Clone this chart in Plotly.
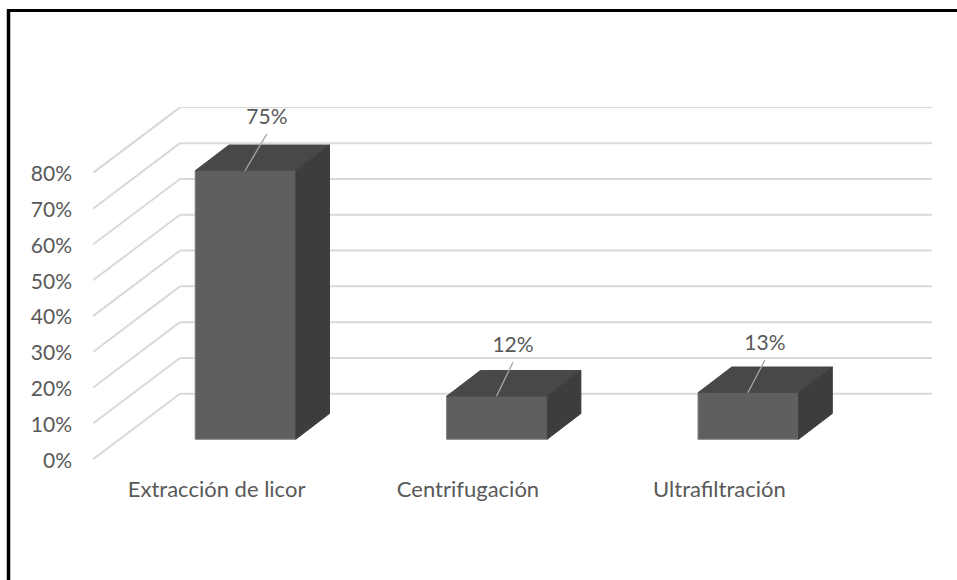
import plotly.graph_objects as go

categories = ["Extracción de licor", "Centrifugación", "Ultrafiltración"]
values = [75, 12, 13]
value_labels = ["75%", "12%", "13%"]
y_ticks = [0, 10, 20, 30, 40, 50, 60, 70, 80]
y_tick_labels = ["0%", "10%", "20%", "30%", "40%", "50%", "60%", "70%", "80%"]

W, H = 957, 580
ML, MR, MT, MB = 93, 25, 107, 120
X_RANGE = [-0.6066, 2.7306]
Y_RANGE = [-0.2, 98.4]

BAR_W = 0.40
FLOOR = 5.6
DEPTH_X = 0.134
DEPTH_Y = 7.18
WALL_X = 0.346
WALL_Y = 18.3
LABEL_SHIFT = 0.115
LEADER_DX = [0.085, 0.064, 0.066]
LEADER_DY = [10.3, 9.5, 9.1]
TEXT_DY = 4.2

TEXT = "#595959"
GRID = "#d9d9d9"
FRONT = "#5f5f5f"
TOP = "#484848"
SIDE = "#3d3d3d"
LEADER = "#a6a6a6"

idx = list(range(len(categories)))
fig = go.Figure()

# front faces
fig.add_trace(go.Bar(x=idx, y=values, base=[FLOOR] * 3, width=BAR_W,
                     marker=dict(color=FRONT, line=dict(color="#7a7a7a", width=1)),
                     showlegend=False, hoverinfo="skip"))

# top and side faces
for i, v in zip(idx, values):
    l, r = i - BAR_W / 2, i + BAR_W / 2
    top = FLOOR + v
    fig.add_trace(go.Scatter(
        x=[l, r, r + DEPTH_X, l + DEPTH_X, l],
        y=[top, top, top + DEPTH_Y, top + DEPTH_Y, top],
        mode="lines", fill="toself", fillcolor=TOP, line=dict(color=TOP, width=1),
        showlegend=False, hoverinfo="skip"))
    fig.add_trace(go.Scatter(
        x=[r, r + DEPTH_X, r + DEPTH_X, r, r],
        y=[FLOOR, FLOOR + DEPTH_Y, top + DEPTH_Y, top, FLOOR],
        mode="lines", fill="toself", fillcolor=SIDE, line=dict(color=SIDE, width=1),
        showlegend=False, hoverinfo="skip"))
    # leader line
    fig.add_trace(go.Scatter(
        x=[i - 0.002, i + LEADER_DX[i]],
        y=[top, top + LEADER_DY[i]],
        mode="lines", line=dict(color=LEADER, width=1.3),
        showlegend=False, hoverinfo="skip"))

# value labels
fig.add_trace(go.Scatter(
    x=[i + LEADER_DX[i] for i in idx],
    y=[FLOOR + v + LEADER_DY[i] + TEXT_DY for i, v in zip(idx, values)],
    text=value_labels, mode="text", textposition="middle center",
    textfont=dict(family="Lato", size=21, color=TEXT),
    cliponaxis=False, showlegend=False, hoverinfo="skip"))

# gridlines on floor-side wall and back wall, behind the bars
shapes = []
for t in y_ticks:
    shapes.append(dict(type="line", xref="x", yref="y", layer="below",
                       x0=X_RANGE[0], y0=t, x1=X_RANGE[0] + WALL_X, y1=t + WALL_Y,
                       line=dict(color=GRID, width=2)))
    shapes.append(dict(type="line", xref="x", yref="y", layer="below",
                       x0=X_RANGE[0] + WALL_X, y0=t + WALL_Y, x1=X_RANGE[1], y1=t + WALL_Y,
                       line=dict(color=GRID, width=2)))

# outer frame, left and top edges only
def px(p):
    return (p - ML) / (W - ML - MR)
def py(p):
    return 1 - (p - MT) / (H - MT - MB)
shapes.append(dict(type="line", xref="paper", yref="paper",
                   x0=px(8.5), x1=px(8.5), y0=py(9), y1=py(580),
                   line=dict(color="#000000", width=3.5)))
shapes.append(dict(type="line", xref="paper", yref="paper",
                   x0=px(7), x1=px(957), y0=py(10.5), y1=py(10.5),
                   line=dict(color="#000000", width=3)))

fig.update_layout(
    width=W, height=H, autosize=False,
    margin=dict(l=ML, r=MR, t=MT, b=MB, pad=0),
    paper_bgcolor="white", plot_bgcolor="white",
    shapes=shapes, showlegend=False,
    font=dict(family="Lato", size=21, color=TEXT),
    xaxis=dict(range=X_RANGE, tickmode="array",
               tickvals=[i - LABEL_SHIFT for i in idx], ticktext=categories,
               showgrid=False, zeroline=False, showline=False, ticks="",
               ticklabelstandoff=14, tickfont=dict(family="Lato", size=22, color=TEXT)),
    yaxis=dict(range=Y_RANGE, tickmode="array", tickvals=y_ticks, ticktext=y_tick_labels,
               showgrid=False, zeroline=False, showline=False, ticks="",
               ticklabelstandoff=20, ticklabelshift=1,
               tickfont=dict(family="Lato", size=21, color=TEXT)),
)

fig.write_html("out.html", config=dict(displayModeBar=False),
               post_script="document.body.style.margin='0';document.body.style.overflow='hidden';")
